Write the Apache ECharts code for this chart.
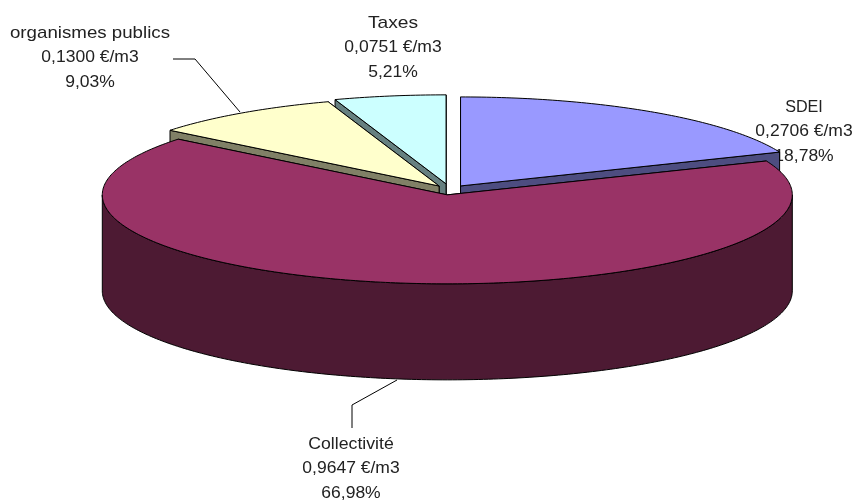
<!DOCTYPE html>
<html><head><meta charset="utf-8">
<style>html,body{margin:0;padding:0;background:#fff}#c{width:856px;height:501px}</style>
<script src="https://cdn.jsdelivr.net/npm/echarts@6/dist/echarts.min.js"></script>
</head><body><div id="c"></div>
<script>
// Data
const categories = ['SDEI', 'Collectivité', 'organismes publics', 'Taxes'];
const values = [0.2706, 0.9647, 0.1300, 0.0751];
const priceLabels = ['0,2706 €/m3', '0,9647 €/m3', '0,1300 €/m3', '0,0751 €/m3'];
const percentLabels = ['18,78%', '66,98%', '9,03%', '5,21%'];
// Styles / layout
const topColors = ['#9999FF', '#993366', '#FFFFCC', '#CCFFFF'];
const sideColors = ['#4D4D80', '#4D1A33', '#808066', '#668080'];
const drawOrder = [3, 2, 0, 1];
const pie = {cx: 450, cy: 190, a: 345, b: 89, depth: 96};
const explode = [0.055, 0.055, 0.055, 0.07];
const labelPos = [[804, 107], [351, 444], [90, 33], [393, 23]];
const nameStretch = [0.95, 1.04, 1.1, 1.13];
const lineGap = 24.5;
const leaders = [null, [[352, 428], [352, 405], [397, 380]], [[173, 59], [195, 59], [240, 112]], null];

const total = values.reduce((s, v) => s + v, 0);
const spans = [];
values.reduce((acc, v) => {
  const end = acc + v / total * Math.PI * 2;
  spans.push([acc, end]);
  return end;
}, 0);

function pt(c, t, dy) {
  return [c[0] + pie.a * Math.sin(t), c[1] - pie.b * Math.cos(t) + (dy || 0)];
}
function arc(c, t0, t1, dy) {
  const n = Math.max(2, Math.ceil(Math.abs(t1 - t0) / 0.015));
  const out = [];
  for (let i = 0; i <= n; i++) out.push(pt(c, t0 + (t1 - t0) * i / n, dy));
  return out;
}
function poly(points, fill) {
  return {type: 'polygon', shape: {points}, style: {fill, stroke: '#000', lineWidth: 1}};
}
function renderSlice(params, api) {
  const i = api.value(0);
  const [t0, t1] = spans[i];
  const mid = (t0 + t1) / 2;
  const e = explode[i];
  const c = [pie.cx + Math.sin(mid) * pie.a * e, pie.cy - Math.cos(mid) * pie.b * e];
  const d = pie.depth, side = sideColors[i];
  const kids = [];
  const cb = [c[0], c[1] + d];
  // radial faces: the one whose outer end is further back is painted first
  [t0, t1].sort((p, q) => pt(c, p)[1] - pt(c, q)[1]).forEach(t => {
    kids.push(poly([c, cb, pt(c, t, d), pt(c, t)], side));
  });
  const f0 = Math.max(t0, Math.PI / 2), f1 = Math.min(t1, Math.PI * 1.5);
  if (f1 > f0) kids.push(poly(arc(c, f0, f1, 0).concat(arc(c, f1, f0, d)), side));
  kids.push(poly([c].concat(arc(c, t0, t1)), topColors[i]));
  return {type: 'group', children: kids};
}
function renderLabel(params, api) {
  const i = api.value(0);
  const p = labelPos[i];
  const kids = [categories[i], priceLabels[i], percentLabels[i]].map((text, k) => ({
    type: 'text', x: p[0], y: p[1] + k * lineGap, scaleX: k === 0 ? nameStretch[i] : 1.03,
    style: {text, fontFamily: 'Liberation Sans', fontSize: 17, fill: '#222', textAlign: 'center', textVerticalAlign: 'middle'}
  }));
  if (leaders[i]) kids.push({type: 'polyline', shape: {points: leaders[i]}, style: {fill: 'none', stroke: '#000', lineWidth: 1}});
  return {type: 'group', children: kids};
}
const chart = echarts.init(document.getElementById('c'), null, {renderer: 'canvas'});
chart.setOption({
  animation: false,
  backgroundColor: '#fff',
  series: [
    {type: 'custom', coordinateSystem: 'none', z: 1, silent: true, renderItem: renderLabel, data: values.map((v, i) => [i, v])},
    {type: 'custom', coordinateSystem: 'none', z: 2, silent: true, renderItem: renderSlice, data: drawOrder.map(i => [i, values[i]])}
  ]
});
</script></body></html>
